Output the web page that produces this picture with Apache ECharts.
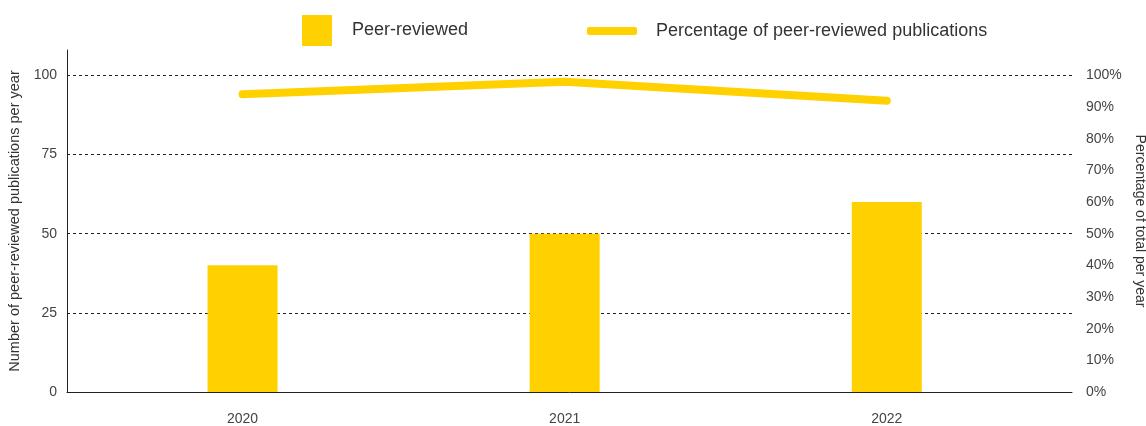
<!DOCTYPE html>
<html>
<head>
<meta charset="utf-8">
<script src="https://cdn.jsdelivr.net/npm/echarts@6/dist/echarts.min.js"></script>
<style>
html,body{margin:0;padding:0;background:#fff;}
#chart{width:1146px;height:426px;}
</style>
</head>
<body>
<div id="chart"></div>
<script>
const categories = ['2020', '2021', '2022'];
const peerReviewed = [40, 50, 60];
const percentPeerReviewed = [94, 98, 92];
const leftTicks = [0, 25, 50, 75, 100];
const rightTicks = [0, 10, 20, 30, 40, 50, 60, 70, 80, 90, 100];

const YELLOW = '#FFD100';
const TEXT = '#444';
const FONT = '"Liberation Sans", Arial, sans-serif';

const barData = peerReviewed.map((v, i) => [i, v]);
const lineData = percentPeerReviewed.map((v, i) => [i, v]);

const chart = echarts.init(document.getElementById('chart'), null, {renderer: 'canvas'});
chart.setOption({
  animation: false,
  backgroundColor: '#fff',
  textStyle: {fontFamily: FONT},
  legend: [
    {
      data: ['Peer-reviewed'],
      left: 297, top: 10,
      itemWidth: 30, itemHeight: 31,
      icon: 'rect',
      textStyle: {fontSize: 18, color: '#333', fontFamily: FONT, padding: [0, 0, 0, 15]}
    },
    {
      data: ['Percentage of peer-reviewed publications'],
      left: 582, top: 17,
      itemWidth: 50, itemHeight: 8,
      icon: 'roundRect',
      textStyle: {fontSize: 18, color: '#333', fontFamily: FONT, padding: [0, 0, 0, 14]}
    }
  ],
  grid: {left: 67, right: 74, top: 50, bottom: 34, containLabel: false, outerBoundsMode: 'none'},
  xAxis: {
    type: 'value',
    min: -0.545,
    max: 2.575,
    axisLine: {show: true, lineStyle: {color: '#222', width: 1}},
    axisTick: {show: false},
    splitLine: {show: false},
    axisLabel: {
      customValues: categories.map((c, i) => i),
      formatter: v => categories[Math.round(v)] || '',
      color: TEXT, fontSize: 14, margin: 20, fontFamily: FONT
    }
  },
  yAxis: [
    {
      type: 'value',
      min: 0, max: 108, interval: 25,
      name: 'Number of peer-reviewed publications per year',
      nameLocation: 'middle',
      nameGap: 37,
      nameTextStyle: {color: '#333', fontSize: 14.5, fontFamily: FONT},
      axisLine: {show: true, onZero: false, lineStyle: {color: '#222', width: 1}},
      axisTick: {show: false},
      axisLabel: {
        customValues: leftTicks,
        color: TEXT, fontSize: 14, margin: 10, fontFamily: FONT
      },
      splitLine: {show: true, showMinLine: false, showMaxLine: false, lineStyle: {color: '#222', type: [3, 3], width: 1}}
    },
    {
      type: 'value',
      min: 0, max: 108, interval: 10,
      position: 'right',
      name: 'Percentage of total per year',
      nameLocation: 'middle',
      nameGap: 58,
      nameRotate: -90,
      nameTextStyle: {color: '#333', fontSize: 14, fontFamily: FONT},
      axisLine: {show: false, onZero: false},
      axisTick: {show: false},
      axisLabel: {
        customValues: rightTicks,
        formatter: '{value}%',
        color: TEXT, fontSize: 14, margin: 14, fontFamily: FONT
      },
      splitLine: {show: false}
    }
  ],
  series: [
    {
      name: 'Peer-reviewed',
      type: 'bar',
      data: barData,
      barWidth: 70,
      itemStyle: {color: YELLOW},
      yAxisIndex: 0
    },
    {
      name: 'Percentage of peer-reviewed publications',
      type: 'line',
      data: lineData,
      yAxisIndex: 1,
      showSymbol: false,
      symbol: 'none',
      lineStyle: {color: YELLOW, width: 8, cap: 'round', join: 'round'},
      itemStyle: {color: YELLOW}
    }
  ]
});
</script>
</body>
</html>
